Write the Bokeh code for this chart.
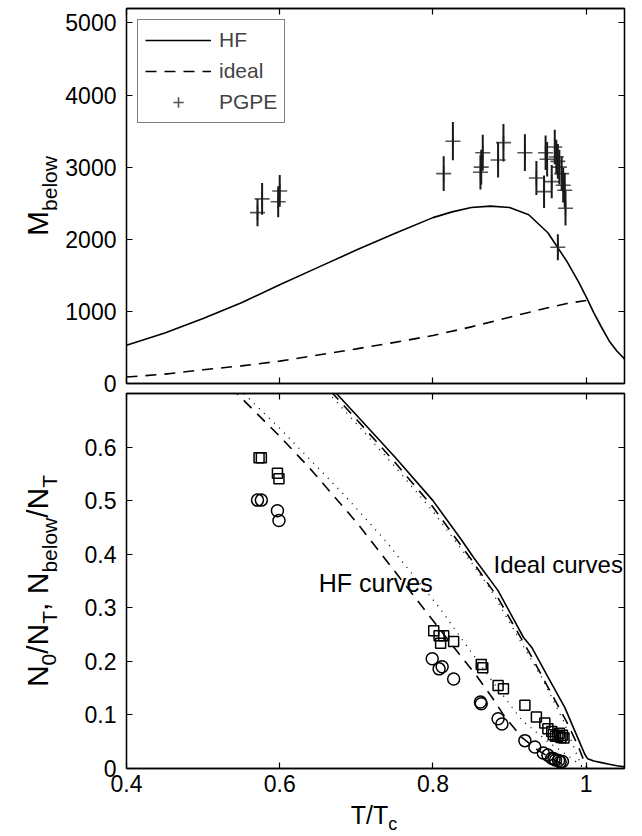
import math
from bokeh.plotting import figure
from bokeh.layouts import column, row
from bokeh.models import Range1d, FixedTicker, LinearAxis, PrintfTickFormatter, Legend
from bokeh.core.properties import value
from bokeh.embed import file_html
from bokeh.resources import INLINE

FONT = "Liberation Sans"

# ---------------- top panel data ----------------
T_hf_top = [0.40, 0.45, 0.50, 0.55, 0.60, 0.65, 0.70, 0.75, 0.80, 0.825, 0.85, 0.875,
            0.90, 0.925, 0.95, 0.975, 0.99, 1.00, 1.01, 1.02, 1.03, 1.04, 1.05]
M_hf = [530, 700, 900, 1120, 1370, 1610, 1850, 2080, 2300, 2380, 2440, 2460,
        2440, 2340, 2090, 1690, 1410, 1200, 980, 780, 590, 450, 340]

T_id_top = [0.40, 0.45, 0.50, 0.55, 0.60, 0.65, 0.70, 0.75, 0.80, 0.85, 0.90, 0.95, 0.975, 1.00]
M_id = [90, 130, 190, 245, 310, 395, 480, 570, 665, 785, 920, 1050, 1110, 1150]

T_pg = [0.571, 0.577, 0.598, 0.600, 0.814, 0.826, 0.862, 0.863, 0.865, 0.885, 0.892, 0.920, 0.935,
        0.945, 0.947, 0.949, 0.955, 0.959, 0.961, 0.963, 0.963, 0.965, 0.968, 0.970, 0.972, 0.973]
M_pg = [2370, 2560, 2520, 2670, 2910, 3360, 2930, 3000, 3200, 3100, 3340, 3200, 2850,
        2660, 3200, 3110, 2800, 3280, 3140, 3080, 1890, 3000, 2910, 2750, 2680, 2430]
M_pg_err = [190, 220, 215, 220, 240, 265, 240, 240, 250, 245, 260, 255, 235,
            225, 240, 240, 230, 240, 240, 240, 180, 240, 240, 240, 240, 240]

# ---------------- bottom panel data ----------------
T_id_solid = [0.65, 0.674, 0.70, 0.75, 0.80, 0.838, 0.853, 0.885, 0.918, 0.929, 0.95, 0.972,
              0.99, 0.998, 1.002, 1.01, 1.02, 1.03, 1.04, 1.05]
N_id_solid = [0.74, 0.70, 0.66, 0.582, 0.50, 0.425, 0.394, 0.332, 0.245, 0.226, 0.171, 0.114,
              0.054, 0.027, 0.018, 0.014, 0.011, 0.008, 0.005, 0.003]

T_id_dash = [0.65, 0.70, 0.75, 0.80, 0.85, 0.885, 0.929, 0.95, 0.976, 0.99, 1.001]
N_id_dash = [0.73, 0.652, 0.572, 0.488, 0.39, 0.318, 0.208, 0.152, 0.083, 0.04, 0.0]

T_id_dot = [0.65, 0.70, 0.75, 0.80, 0.851, 0.875, 0.916, 0.942, 0.97, 0.995]
N_id_dot = [0.722, 0.644, 0.564, 0.48, 0.383, 0.335, 0.233, 0.17, 0.09, 0.0]

T_hf_dash = [0.52, 0.544, 0.60, 0.638, 0.70, 0.736, 0.793, 0.834, 0.855, 0.877, 0.894,
             0.916, 0.937, 0.959, 0.976]
N_hf_dash = [0.74, 0.70, 0.62, 0.5625, 0.46, 0.394, 0.289, 0.214, 0.177, 0.133, 0.096,
             0.058, 0.034, 0.015, 0.003]

T_hf_dot = [0.53, 0.553, 0.60, 0.683, 0.74, 0.759, 0.808, 0.842, 0.877, 0.916, 0.95, 0.972, 0.999]
N_hf_dot = [0.74, 0.70, 0.635, 0.5125, 0.422, 0.3875, 0.301, 0.233, 0.164, 0.09, 0.05, 0.028, 0.0]

T_sq = [0.573, 0.576, 0.597, 0.599, 0.801, 0.808, 0.810, 0.814, 0.827, 0.863, 0.865, 0.885, 0.892,
        0.920, 0.935, 0.946, 0.950, 0.955, 0.957, 0.960, 0.963, 0.965, 0.967, 0.969, 0.971]
N_sq = [0.580, 0.580, 0.551, 0.541, 0.257, 0.248, 0.234, 0.248, 0.237, 0.194, 0.188, 0.155, 0.149,
        0.118, 0.096, 0.085, 0.074, 0.069, 0.063, 0.060, 0.060, 0.066, 0.058, 0.062, 0.057]

T_ci = [0.571, 0.576, 0.597, 0.599, 0.799, 0.808, 0.812, 0.827, 0.862, 0.863, 0.885, 0.890,
        0.920, 0.933, 0.944, 0.950, 0.955, 0.958, 0.960, 0.964, 0.966, 0.969]
N_ci = [0.501, 0.501, 0.481, 0.463, 0.205, 0.186, 0.190, 0.167, 0.124, 0.121, 0.093, 0.083,
        0.052, 0.040, 0.029, 0.025, 0.019, 0.018, 0.016, 0.015, 0.012, 0.013]

x_ticks = [0.4, 0.6, 0.8, 1.0]
top_y_ticks = [0, 1000, 2000, 3000, 4000, 5000]
bot_y_ticks = [0, 0.1, 0.2, 0.3, 0.4, 0.5, 0.6]

# ---------------- layout constants ----------------
WL = 62                 # strip holding the rotated y labels
LEFT = 123 - WL         # left border of the plots (tick labels)
RIGHT = 14
FRAME_W, FRAME_H = 501, 375
TOP1, BOT1 = 8, 9
TOP2, BOT2 = 1, 34
HX = 34                 # strip holding the x label
TICK_FS = "23px"
X_RANGE = (0.4, 1.05)
W_MAIN = LEFT + FRAME_W + RIGHT
H1 = TOP1 + FRAME_H + BOT1
H2 = TOP2 + FRAME_H + BOT2

CHAR_W = {'N': 0.722, '0': 0.556, '/': 0.278, 'T': 0.611, ',': 0.278, ' ': 0.278, 'b': 0.556,
          'e': 0.556, 'l': 0.222, 'o': 0.556, 'w': 0.722, 'M': 0.833, 'c': 0.5}


def text_w(s, size):
    return sum(CHAR_W.get(ch, 0.556) for ch in s) * size


def style_axis(ax, ticks, show, standoff):
    ax.ticker = FixedTicker(ticks=ticks)
    ax.formatter = PrintfTickFormatter(format="%g")
    ax.major_tick_in = 6
    ax.major_tick_out = 0
    ax.minor_tick_in = 0
    ax.minor_tick_out = 0
    ax.axis_line_color = "black"
    ax.axis_line_width = 1.3
    ax.major_tick_line_color = "black"
    ax.major_tick_line_width = 1.2
    if show:
        ax.major_label_text_font = FONT
        ax.major_label_text_font_size = TICK_FS
        ax.major_label_text_color = "black"
        ax.major_label_standoff = standoff
    else:
        ax.major_label_text_font_size = "1px"
        ax.major_label_text_color = None
        ax.major_label_standoff = 0


def make_fig(y_rng, yticks, top, bottom, show_x):
    p = figure(width=W_MAIN, height=top + FRAME_H + bottom,
               x_range=Range1d(*X_RANGE), y_range=Range1d(*y_rng),
               min_border_left=LEFT, min_border_right=RIGHT,
               min_border_top=top, min_border_bottom=bottom,
               output_backend="svg", toolbar_location=None)
    p.grid.visible = False
    p.outline_line_color = "black"
    p.outline_line_width = 1.3
    p.background_fill_color = "white"
    p.border_fill_color = "white"
    style_axis(p.xaxis[0], x_ticks, show_x, 6)
    style_axis(p.yaxis[0], yticks, True, 10)
    ax_top = LinearAxis()
    style_axis(ax_top, x_ticks, False, 0)
    p.add_layout(ax_top, "above")
    ax_right = LinearAxis()
    style_axis(ax_right, yticks, False, 0)
    p.add_layout(ax_right, "right")
    return p


def strip_fig(w, h):
    f = figure(width=w, height=h, x_range=Range1d(0, w), y_range=Range1d(0, h),
               min_border=0, min_border_left=0, min_border_right=0,
               min_border_top=0, min_border_bottom=0,
               x_axis_type=None, y_axis_type=None,
               output_backend="svg", toolbar_location=None)
    f.outline_line_color = None
    f.background_fill_color = "white"
    f.border_fill_color = "white"
    return f


def rich_text(f, cx, cy, pieces, fs, sfs, vertical):
    """Text with subscripts. (cx, cy): middle line of the main text / centre along the text,
    in strip pixels (y measured upward)."""
    total = sum(text_w(t, sfs if sub else fs) for t, sub in pieces)
    pos = -total / 2
    drop = 0.3 * fs + 0.3 * (fs - sfs)   # shift of the subscript's middle line
    for t, sub in pieces:
        size = sfs if sub else fs
        d = drop if sub else 0
        if vertical:
            f.text(x=[cx + d], y=[cy + pos], text=[t], angle=math.pi / 2,
                   text_font=value(FONT), text_font_size=value(f"{size}px"),
                   text_align="left", text_baseline="middle", text_color="black")
        else:
            f.text(x=[cx + pos], y=[cy - d], text=[t],
                   text_font=value(FONT), text_font_size=value(f"{size}px"),
                   text_align="left", text_baseline="middle", text_color="black")
        pos += text_w(t, size)


# ---------------- top figure ----------------
p1 = make_fig((0, 5200), top_y_ticks, TOP1, BOT1, False)
r_hf = p1.line(T_hf_top, M_hf, line_color="black", line_width=1.6)
r_id = p1.line(T_id_top, M_id, line_color="black", line_width=1.6, line_dash="11 8")
r_pg = p1.scatter(T_pg, M_pg, marker="cross", size=15, line_color="#555555", line_width=1.6)
p1.segment(x0=T_pg, y0=[m - e for m, e in zip(M_pg, M_pg_err)],
           x1=T_pg, y1=[m + e for m, e in zip(M_pg, M_pg_err)],
           line_color="#1a1a1a", line_width=2)

legend = Legend(items=[("HF", [r_hf]), ("ideal", [r_id]), ("PGPE", [r_pg])],
                location="top_left", margin=11, padding=7, spacing=5,
                glyph_width=66, glyph_height=26, label_height=26, label_standoff=8,
                label_text_font=FONT, label_text_font_size="21px",
                border_line_color="black", border_line_width=1.2,
                background_fill_color="white", background_fill_alpha=1.0)
p1.add_layout(legend)

# ---------------- bottom figure ----------------
p2 = make_fig((0, 0.7), bot_y_ticks, TOP2, BOT2, True)
p2.line(T_id_solid, N_id_solid, line_color="black", line_width=1.6)
p2.line(T_id_dash, N_id_dash, line_color="black", line_width=1.6, line_dash="11 8")
p2.line(T_id_dot, N_id_dot, line_color="black", line_width=1.3, line_dash="1 6")
p2.line(T_hf_dash, N_hf_dash, line_color="black", line_width=1.6, line_dash="11 8")
p2.line(T_hf_dot, N_hf_dot, line_color="black", line_width=1.3, line_dash="1 6")
p2.scatter(T_sq, N_sq, marker="square", size=10, fill_color=None, line_color="black", line_width=1.5)
p2.scatter(T_ci, N_ci, marker="circle", size=12, fill_color=None, line_color="black", line_width=1.5)

p2.text(x=[0.651], y=[0.347], text=["HF curves"], text_font=value(FONT), text_font_size=value("25px"),
        text_align="left", text_baseline="middle", text_color="black")
p2.text(x=[0.879], y=[0.38], text=["Ideal curves"], text_font=value(FONT), text_font_size=value("24px"),
        text_align="left", text_baseline="middle", text_color="black")

# ---------------- label strips ----------------
ylab = strip_fig(WL, H1 + H2)
rich_text(ylab, 37, H1 + H2 - (TOP1 + FRAME_H / 2), [("M", False), ("below", True)], 30, 21, True)
rich_text(ylab, 37, H2 - (TOP2 + FRAME_H / 2),
          [("N", False), ("0", True), ("/N", False), ("T", True), (", N", False),
           ("below", True), ("/N", False), ("T", True)], 30, 21, True)

xlab = strip_fig(WL + W_MAIN, HX)
rich_text(xlab, WL + LEFT + FRAME_W / 2, 22, [("T/T", False), ("c", True)], 25, 18, False)

layout = column(row(ylab, column(p1, p2, spacing=0), spacing=0), xlab, spacing=0)
open("out.html", "w").write(file_html(layout, INLINE))
